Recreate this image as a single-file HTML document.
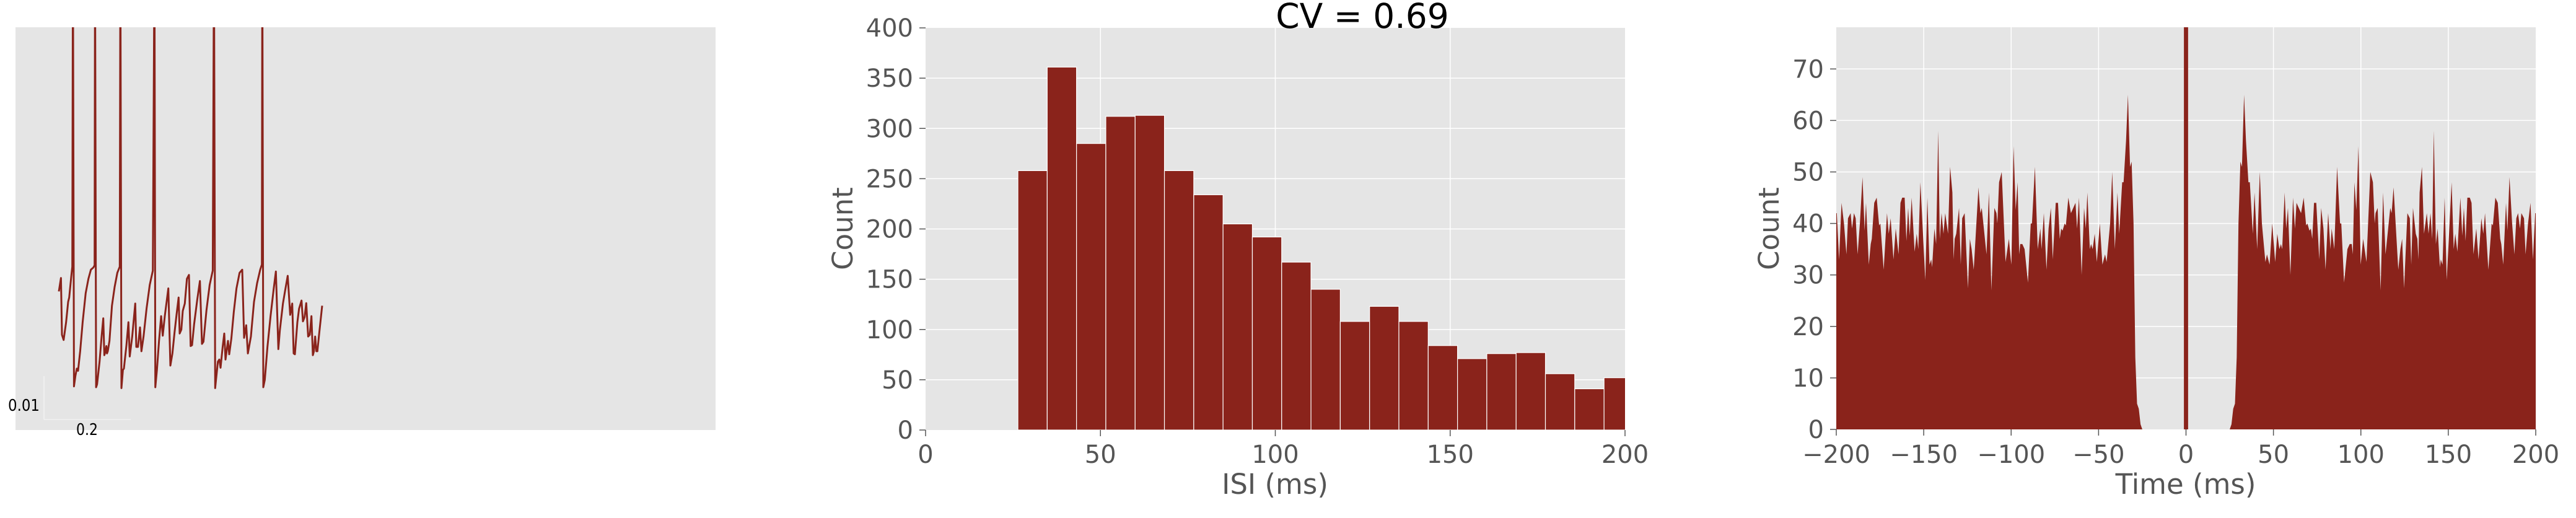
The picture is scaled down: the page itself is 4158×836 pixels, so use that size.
<!DOCTYPE html>
<html><head><meta charset="utf-8"><style>
html,body{margin:0;padding:0;background:#fff;}
svg text{font-family:"DejaVu Sans","Liberation Sans",sans-serif;}
</style></head><body>
<svg id="fig" width="4158" height="831" viewBox="0 0 4158 831" xmlns="http://www.w3.org/2000/svg">
<defs>
<clipPath id="c1"><rect x="25" y="44" width="1130" height="650"/></clipPath>
<clipPath id="c2"><rect x="1494" y="45" width="1129" height="649"/></clipPath>
<clipPath id="c3"><rect x="2964" y="44" width="1129" height="649"/></clipPath>
</defs>
<g id="p1">
<rect x="25" y="44" width="1130" height="650" fill="#e5e5e5"/>
<path id="trace" clip-path="url(#c1)" fill="none" stroke="#8a231b" stroke-width="3" stroke-linejoin="round"/>
<line x1="71" y1="607" x2="71" y2="677" stroke="#f2f2f2" stroke-width="1.5"/>
<line x1="71" y1="677" x2="211" y2="677" stroke="#f2f2f2" stroke-width="1.5"/>
<text x="13" y="663" font-size="26" textLength="51" lengthAdjust="spacingAndGlyphs" fill="#000">0.01</text>
<text x="123" y="702" font-size="26" textLength="35" lengthAdjust="spacingAndGlyphs" fill="#000">0.2</text>
</g>
<g id="p2">
<rect x="1494" y="45" width="1129" height="649" fill="#e5e5e5"/>
<g id="g2"></g>
<g id="bars" clip-path="url(#c2)"></g>
<g id="t2"></g>
<text x="2199" y="45" font-size="55" text-anchor="middle" fill="#000">CV = 0.69</text>
<text x="2058" y="797" font-size="45" text-anchor="middle" fill="#555">ISI (ms)</text>
<text transform="translate(1376,369) rotate(-90)" font-size="45" text-anchor="middle" fill="#555">Count</text>
</g>
<g id="p3">
<rect x="2964" y="44" width="1129" height="649" fill="#e5e5e5"/>
<g id="g3"></g>
<path id="acg" clip-path="url(#c3)" fill="#8a231b"/>
<g id="t3"></g>
<text x="3528" y="797" font-size="45" text-anchor="middle" fill="#555">Time (ms)</text>
<text transform="translate(2871,369) rotate(-90)" font-size="45" text-anchor="middle" fill="#555">Count</text>
</g>
</svg>
<script>
// ---- panel 1 data: time (ms), voltage (mV)
const traceT=[100.0,104.8,107.2,111.0,116.7,121.5,123.9,128.6,131.0,132.4,132.4,134.8,138.1,141.5,144.3,149.1,154.8,161.9,168.1,173.9,179.6,182.4,183.4,183.4,185.8,188.1,193.9,198.6,202.4,204.8,207.2,209.6,211.0,212.9,216.7,222.4,228.6,234.8,240.5,241.9,241.9,244.3,247.7,250.0,255.8,260.5,263.4,269.1,276.2,278.6,282.4,287.2,290.5,295.3,302.4,309.6,316.7,320.5,320.5,322.4,326.2,331.0,335.8,339.6,344.3,352.4,357.2,361.9,366.7,371.5,376.2,378.6,382.4,385.7,390.5,395.3,400.0,403.9,407.2,411.9,419.1,425.3,430.0,433.4,440.5,447.7,454.8,457.7,457.7,460.5,466.7,470.0,472.9,477.7,481.5,484.3,490.0,492.9,497.7,503.4,509.6,516.7,522.9,527.2,532.0,535.8,542.9,550.0,557.2,564.3,568.1,569.1,569.1,571.5,574.8,581.0,588.1,595.3,600.5,606.2,609.6,616.7,621.5,627.7,633.4,638.1,641.5,644.3,650.0,653.8,659.6,662.9,666.7,670.5,674.8,678.6,682.4,685.7,688.1,691.0,693.8,696.2,700.0,707.2];
const traceV=[-47.9,-44.8,-57.9,-59.1,-55.0,-50.3,-49.3,-44.5,-42.2,30,30,-69.8,-67.4,-65.7,-66.2,-61.7,-55.0,-48.3,-45.0,-42.9,-42.4,-41.9,30,30,-70.0,-69.3,-64.1,-58.3,-54.1,-62.6,-61.9,-60.5,-62.2,-61.7,-59.3,-51.2,-46.9,-43.6,-42.2,30,30,-70.2,-66.0,-65.7,-60.3,-55.0,-62.9,-58.3,-50.7,-60.7,-60.7,-56.2,-61.7,-58.3,-51.7,-46.4,-43.1,30,30,-70.0,-66.0,-59.3,-53.6,-58.1,-53.6,-47.2,-65.0,-62.2,-57.4,-53.1,-49.3,-57.6,-56.7,-52.4,-50.7,-45.0,-44.1,-60.5,-60.3,-55.5,-49.8,-45.5,-60.0,-59.5,-52.2,-46.4,-43.1,30,30,-70.2,-64.1,-63.6,-65.5,-60.7,-57.6,-63.6,-59.3,-62.4,-58.8,-52.6,-47.2,-43.6,-42.9,-58.6,-55.7,-62.2,-58.3,-50.3,-46.0,-42.9,-41.7,30,30,-70.0,-68.3,-60.7,-53.6,-47.4,-43.3,-61.2,-56.9,-50.7,-47.9,-44.3,-53.3,-50.7,-62.2,-62.4,-55.0,-51.9,-50.0,-54.8,-53.8,-50.6,-58.3,-57.9,-53.6,-62.6,-61.7,-58.3,-61.7,-61.7,-57.9,-51.2];
// ---- panel 2 data
const binStart=26.4, binWidth=8.38;
const isiCounts=[258,361,285,312,313,258,234,205,192,167,140,108,123,108,84,71,76,77,56,41,52];
const isiXTicks=[0,50,100,150,200];
const isiYTicks=[0,50,100,150,200,250,300,350,400];
// ---- panel 3 data (right half; autocorrelogram is symmetric)
const acgLags=[0,1,1.2,25,26,27,28,29,30,31.1,32,33.2,34.3,35.7,36.5,38.2,39.2,40.7,42.2,43.4,45.4,46.3,47.8,49.3,51,52.2,53.4,54.3,55,56.4,57.3,58.3,59.7,61.2,62.3,63.2,65.8,67.3,68.7,69.4,70.6,71.4,72.2,73.2,74.5,76.2,77.3,78.6,79.8,81.3,82.6,83.3,84.8,86.4,88.1,88.8,90.4,92.3,93.6,94.8,95.4,96.3,97.4,98.6,99.9,101.3,103.2,105.4,106.9,107.9,108.4,109.6,111.3,112.7,114.1,116.8,117.6,118.7,121.4,122.6,123.6,124.7,126.6,128,128.8,129.8,131.4,132.3,132.9,133.6,134.9,136.1,137.7,138.7,139.8,140.8,141.7,142.9,143.9,145.2,145.7,146.7,147.9,149.1,151.9,153.1,154,155.2,156.9,158,158.9,159.9,160.9,162.3,163.3,164.4,166,167.3,168.9,170,171,172.9,174.8,175.5,176.9,178.3,179.7,180.3,181.4,183,183.8,185,186.5,187.8,188.9,189.9,191,191.8,193.3,194.2,195.6,197,198.4,199.7,200];
const acgCounts=[3000,3000,0,0,1,4,5,14,40,52,51,65,56,48,48,38,46,35,50,40,32.5,34,32,40,32.5,38,35,36,35,46,39,43,30,45,39,44,42,45,39.6,40,38.6,39,37,44,44,33,43,39,31,42,35,39,35,51,40,40,28.5,35,36,36,34,48,42.6,55,32,37,32.5,50,48,40,42,43,27,46,34,43,42,47,31,35,37,27.4,42,41,32,43,38,37,33,46,51,38,42,38,42,37,58,36,39,31.5,33,32,45,29,48,35,38,34.5,45,37.6,43,36.6,45,45,44,34,39,33,41,38,42,31,40,39.6,45,44,37,36,32,44,38.6,49,40,34,41,42,39,42,41,34,40,44,33,42,42];
const acgXTicks=[-200,-150,-100,-50,0,50,100,150,200];
const acgYTicks=[0,10,20,30,40,50,60,70];

const NS="http://www.w3.org/2000/svg";
function mk(tag,attrs,parent){const e=document.createElementNS(NS,tag);for(const k in attrs)e.setAttribute(k,attrs[k]);parent.appendChild(e);return e;}
const fmt=v=>(v<0?"\u2212"+(-v):""+v);

// panel 1
const tx=t=>25+t*0.7, ty=v=>625-(v+70)*7;
document.getElementById('trace').setAttribute('d',traceT.map((t,i)=>(i?'L':'M')+tx(t).toFixed(1)+','+ty(traceV[i]).toFixed(1)).join(''));

// panel 2
const hx=v=>1494+v*(1129/200), hy=v=>694-v*(649/400);
const g2=document.getElementById('g2'), bars=document.getElementById('bars'), t2=document.getElementById('t2');
isiXTicks.forEach(v=>{
  if(v>0&&v<200){const l=mk('line',{x1:hx(v),x2:hx(v),y1:45,y2:694,stroke:'#fff','stroke-width':1.5},g2);
  
  }
  const tk=mk('line',{x1:hx(v),x2:hx(v),y1:694,y2:704,stroke:'#555','stroke-width':1.5},t2);
  
  
  const tl=mk('text',{x:hx(v),y:747,'font-size':40,'text-anchor':'middle',fill:'#555'},t2);tl.textContent=fmt(v);
  
  
});
isiYTicks.forEach(v=>{
  if(v>0&&v<400){const l=mk('line',{x1:1494,x2:2623,y1:hy(v),y2:hy(v),stroke:'#fff','stroke-width':1.5},g2);
  
  }
  const tk=mk('line',{x1:1484,x2:1494,y1:hy(v),y2:hy(v),stroke:'#555','stroke-width':1.5},t2);
  
  
  const tl=mk('text',{x:1474,y:hy(v)+14,'font-size':40,'text-anchor':'end',fill:'#555'},t2);tl.textContent=v;
  
  
});
isiCounts.forEach((c,i)=>{
  const x0=hx(binStart+i*binWidth), x1=hx(binStart+(i+1)*binWidth);
  const r=mk('rect',{x:x0,y:hy(c),width:x1-x0,height:hy(0)-hy(c),fill:'#8a231b',stroke:'#fff','stroke-width':1.2},bars);
  
  
});

// panel 3
const ax=v=>2964+(v+200)*(1129/400), ay=v=>693-v*8.31;
const g3=document.getElementById('g3'), t3=document.getElementById('t3');
acgXTicks.forEach(v=>{
  if(v>-200&&v<200){const l=mk('line',{x1:ax(v),x2:ax(v),y1:44,y2:693,stroke:'#fff','stroke-width':1.5},g3);
  
  }
  const tk=mk('line',{x1:ax(v),x2:ax(v),y1:693,y2:703,stroke:'#555','stroke-width':1.5},t3);
  
  
  const tl=mk('text',{x:ax(v),y:747,'font-size':40,'text-anchor':'middle',fill:'#555'},t3);tl.textContent=fmt(v);
  
  
});
acgYTicks.forEach(v=>{
  if(v>0){const l=mk('line',{x1:2964,x2:4093,y1:ay(v),y2:ay(v),stroke:'#fff','stroke-width':1.5},g3);
  
  }
  const tk=mk('line',{x1:2954,x2:2964,y1:ay(v),y2:ay(v),stroke:'#555','stroke-width':1.5},t3);
  
  
  const tl=mk('text',{x:2944,y:ay(v)+14,'font-size':40,'text-anchor':'end',fill:'#555'},t3);tl.textContent=v;
  
  
});
const pts=[];
for(let i=acgLags.length-1;i>=1;i--)pts.push([-acgLags[i],acgCounts[i]]);
for(let i=0;i<acgLags.length;i++)pts.push([acgLags[i],acgCounts[i]]);
let d='M'+ax(-200)+','+ay(0);
pts.forEach(p=>{d+='L'+ax(p[0]).toFixed(2)+','+ay(p[1]).toFixed(2);});
d+='L'+ax(200)+','+ay(0)+'Z';
document.getElementById('acg').setAttribute('d',d);
</script>
</body></html>
